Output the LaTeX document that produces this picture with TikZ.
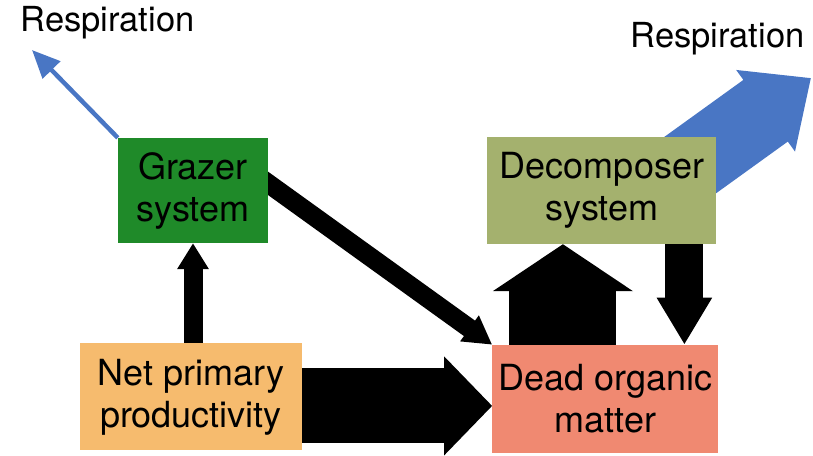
\documentclass[tikz,border=0pt]{standalone}
\usepackage{fontspec}
\setmainfont{TeX Gyre Heros}
\usetikzlibrary{arrows.meta,positioning,backgrounds}
\definecolor{grazergreen}{RGB}{31,138,41}
\definecolor{decolive}{RGB}{164,177,110}
\definecolor{nppyellow}{RGB}{246,187,110}
\definecolor{domred}{RGB}{240,137,113}
\definecolor{respblue}{RGB}{73,118,196}

\begin{document}
\begin{tikzpicture}[x=1pt, y=-1pt,
  box/.style={align=center,inner sep=0pt,font=\fontsize{36}{42}\selectfont},
  resp/.style={inner sep=0pt,font=\fontsize{34.5}{40}\selectfont},
  flow/.style n args={3}{draw=black,line width=#1,-{Triangle[length=#2,width=#3]}}]
  \useasboundingbox (0,0) rectangle (813,455);
  \node[box, fill=grazergreen, minimum width=150pt, minimum height=105pt] (grazer) at (193,190.5) {Grazer\\system};
  \node[box, fill=decolive, minimum width=229pt, minimum height=107pt, right=219pt of grazer] (decomp) {Decomposer\\system};
  \node[box, fill=nppyellow, minimum width=222pt, minimum height=107pt, below=100pt of grazer, xshift=-2pt] (npp) {Net primary\\productivity};
  \node[box, fill=domred, minimum width=226pt, minimum height=108pt, right=190pt of npp, yshift=-2pt] (dom) {Dead organic\\matter};
  \node[resp, anchor=base] (resp1) at (107.5,31) {Respiration};
  \node[resp, anchor=base] (resp2) at (717.5,47) {Respiration};
  \coordinate (tip1) at (32,50);
  \coordinate (tip2) at (811,78);
  \begin{scope}[on background layer]
    \draw[flow={4.5pt}{28pt}{24pt}, draw=respblue] (grazer.north west) -- (tip1);
    \draw[flow={76pt}{56pt}{97pt}, draw=respblue] ([xshift=38.5pt,yshift=-10.5pt]decomp.center) -- (tip2);
    \draw[flow={19pt}{28pt}{30pt}] ([xshift=-18pt,yshift=20pt]grazer.east) -- (dom.north west);
    \draw[flow={19pt}{26pt}{30pt}] (grazer.south |- npp.north) -- (grazer.south);
    \draw[flow={75pt}{48pt}{96pt}] ([yshift=-9pt]npp.east) -- ([yshift=-9pt]npp.east -| dom.west);
    \draw[flow={107pt}{47pt}{138pt}] ([xshift=-42.5pt]dom.north) -- ([xshift=-42.5pt]dom.north |- decomp.south);
    \draw[flow={38pt}{47pt}{52pt}] ([xshift=82.5pt]decomp.south) -- ([xshift=82.5pt]decomp.south |- dom.north);
  \end{scope}
\end{tikzpicture}
\end{document}
